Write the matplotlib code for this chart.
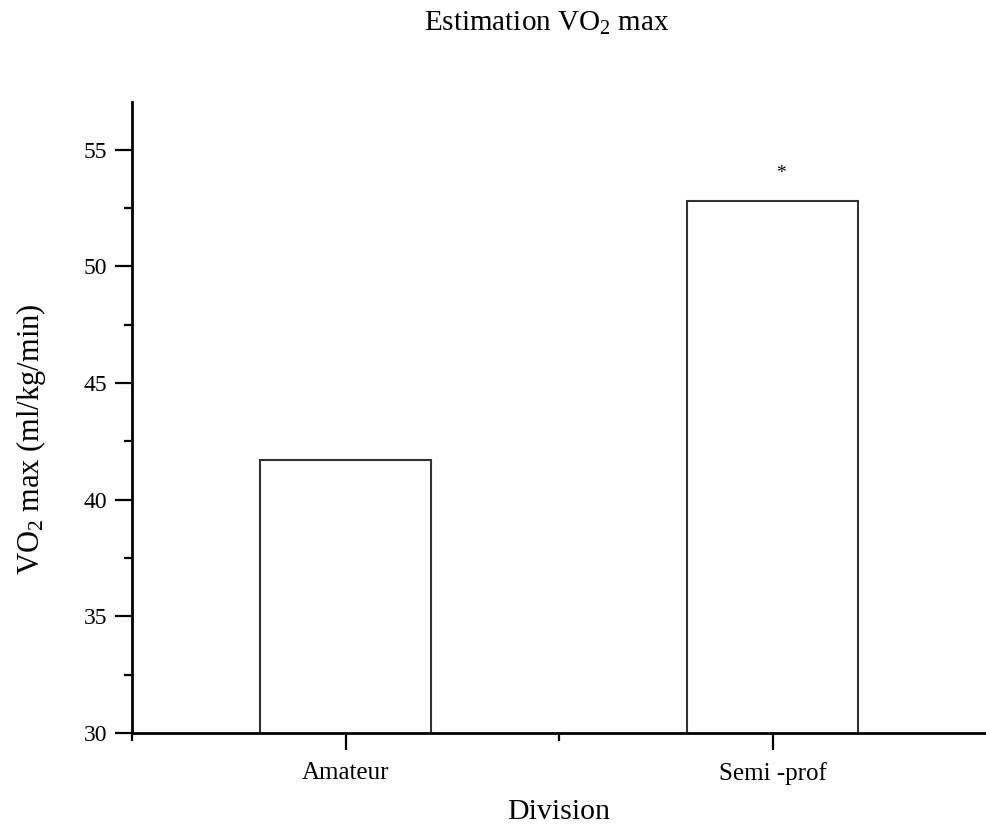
'''Estimation VO2 max bar chart by division'''
import matplotlib
matplotlib.use('Agg')
import matplotlib.pyplot as plt
from matplotlib.ticker import MultipleLocator

plt.rcParams['font.family'] = ['Liberation Serif', 'DejaVu Serif']
plt.rcParams['mathtext.fontset'] = 'custom'
plt.rcParams['mathtext.rm'] = 'Liberation Serif'
plt.rcParams['mathtext.it'] = 'Liberation Serif:italic'

divisions = ['Amateur', 'Semi -prof']
vo2_max = [41.7, 52.8]
significance = ['', '*']
star_height = [0, 54.0]

fig = plt.figure(figsize=(9.86, 8.25), dpi=100)
ax = fig.add_axes([0.134, 0.1115, 0.866, 0.765])

positions = [1, 2]
ax.bar(positions, vo2_max, width=0.4, bottom=0, color='white',
       edgecolor='#333333', linewidth=1.5, zorder=2)
for pos, mark, h in zip(positions, significance, star_height):
    if mark:
        ax.text(pos + 0.02, h, mark, ha='center', va='center', fontsize=14)

ax.set_xlim(0.5, 2.5)
ax.set_ylim(30, 57.05)
ax.set_xticks(positions)
ax.set_xticklabels(divisions)
# minor ticks only at the left corner and between the bars
ax.xaxis.set_minor_locator(plt.FixedLocator([0.5, 1.5]))
ax.yaxis.set_major_locator(MultipleLocator(5))
ax.yaxis.set_minor_locator(MultipleLocator(2.5))
ax.tick_params(axis='both', which='major', length=12, width=1.6, labelsize=17,
               direction='out', pad=6)
ax.tick_params(axis='both', which='minor', length=6, width=1.6, direction='out')
ax.tick_params(axis='x', which='major', labelsize=18, pad=9)

for side in ['top', 'right']:
    ax.spines[side].set_visible(False)
for side in ['left', 'bottom']:
    ax.spines[side].set_linewidth(2)

fig.text(0.555, 0.972, 'Estimation VO$_2$ max', ha='center', va='center', fontsize=21)
fig.text(0.567, 0.016, 'Division', ha='center', va='center', fontsize=21.5)
fig.text(0.031, 0.468, 'VO$_2$ max (ml/kg/min)', ha='center', va='center',
         rotation=90, fontsize=22)

fig.savefig('out.png', dpi=100)
